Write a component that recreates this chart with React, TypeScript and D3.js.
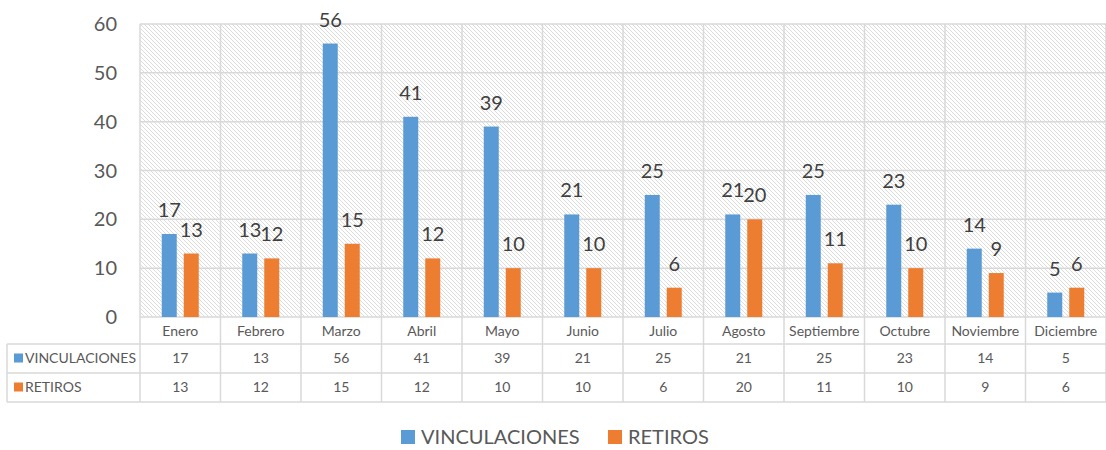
import React, { useRef, useEffect } from "react";
import * as d3 from "d3";

const months = ["Enero", "Febrero", "Marzo", "Abril", "Mayo", "Junio", "Julio", "Agosto", "Septiembre", "Octubre", "Noviembre", "Diciembre"];
const vinculaciones = [17, 13, 56, 41, 39, 21, 25, 21, 25, 23, 14, 5];
const retiros = [13, 12, 15, 12, 10, 10, 6, 20, 11, 10, 9, 6];
const yTicks = [0, 10, 20, 30, 40, 50, 60];

const seriesNames = ["VINCULACIONES", "RETIROS"];
const seriesColors = ["#5b9bd5", "#ed7d31"];

export default function App() {
    const ref = useRef<SVGSVGElement>(null);

    useEffect(() => {
        const width = 1106, height = 450;
        const plot = { left: 140, right: 1106, top: 24, bottom: 317 };
        const font = "Lato, 'Open Sans', sans-serif";
        const gridColor = "#d9d9d9";
        const textColor = "#595959";

        const svg = d3.select(ref.current);
        svg.selectAll("*").remove();
        svg.attr("width", width).attr("height", height);

        const defs = svg.append("defs");
        const pat = defs.append("pattern")
            .attr("id", "hatch")
            .attr("patternUnits", "userSpaceOnUse")
            .attr("width", 4).attr("height", 4);
        pat.append("rect").attr("width", 4).attr("height", 4).attr("fill", "#fff");
        pat.append("path")
            .attr("d", "M-1,-1 L5,5 M-1,3 L1,5 M3,-1 L5,1")
            .attr("stroke", "#dcdcdc").attr("stroke-width", 1);

        const x = d3.scaleBand().domain(months).range([plot.left, plot.right]).padding(0);
        const y = d3.scaleLinear().domain([0, 60]).range([plot.bottom, plot.top]);
        const barW = 15, gap = 7;

        svg.append("rect")
            .attr("x", plot.left).attr("y", plot.top)
            .attr("width", plot.right - plot.left).attr("height", plot.bottom - plot.top)
            .attr("fill", "url(#hatch)");

        // horizontal gridlines
        svg.append("g").selectAll("line").data(yTicks.filter(t => t > 0)).enter().append("line")
            .attr("x1", plot.left).attr("x2", plot.right)
            .attr("y1", d => y(d)).attr("y2", d => y(d))
            .attr("stroke", gridColor).attr("stroke-width", 1.5);

        // vertical gridlines through plot and table
        const tableRows = [317, 344, 373, 402];
        const bounds = months.map(m => x(m) as number).concat([plot.right]);
        svg.append("g").selectAll("line").data(bounds).enter().append("line")
            .attr("x1", d => d).attr("x2", d => d)
            .attr("y1", plot.top).attr("y2", tableRows[3])
            .attr("stroke", gridColor).attr("stroke-width", 1.5);

        // table horizontal lines
        svg.append("g").selectAll("line").data(tableRows.slice(1)).enter().append("line")
            .attr("x1", 7).attr("x2", plot.right)
            .attr("y1", d => d).attr("y2", d => d)
            .attr("stroke", gridColor).attr("stroke-width", 1.5);
        svg.append("line")
            .attr("x1", 7).attr("x2", 7).attr("y1", tableRows[1]).attr("y2", tableRows[3])
            .attr("stroke", gridColor).attr("stroke-width", 1.5);
        svg.append("line")
            .attr("x1", plot.left).attr("x2", plot.right).attr("y1", plot.bottom).attr("y2", plot.bottom)
            .attr("stroke", gridColor).attr("stroke-width", 1.5);

        // y tick labels
        svg.append("g").selectAll("text").data(yTicks).enter().append("text")
            .attr("x", 117).attr("y", d => y(d))
            .attr("dy", "0.35em")
            .attr("text-anchor", "end")
            .attr("font-family", font).attr("font-size", 20)
            .attr("fill", textColor)
            .text(d => d);

        const series = [vinculaciones, retiros];
        series.forEach((vals, si) => {
            const g = svg.append("g");
            const bx = (i: number) => (x(months[i]) as number) + x.bandwidth() / 2 - (barW * 2 + gap) / 2 + si * (barW + gap);
            g.selectAll("rect").data(vals).enter().append("rect")
                .attr("x", (d, i) => bx(i))
                .attr("y", d => y(d))
                .attr("width", barW)
                .attr("height", d => plot.bottom - y(d))
                .attr("fill", seriesColors[si]);
            g.selectAll("text").data(vals).enter().append("text")
                .attr("x", (d, i) => bx(i) + barW / 2)
                .attr("y", d => y(d) - 17)
                .attr("text-anchor", "middle")
                .attr("font-family", font).attr("font-size", 20)
                .attr("fill", "#404040")
                .text(d => d);
        });

        // category labels
        svg.append("g").selectAll("text").data(months).enter().append("text")
            .attr("x", d => (x(d) as number) + x.bandwidth() / 2)
            .attr("y", 336)
            .attr("text-anchor", "middle")
            .attr("font-family", font).attr("font-size", 14)
            .attr("fill", textColor)
            .text(d => d);

        // table rows
        series.forEach((vals, si) => {
            const rowY = (tableRows[si + 1] + tableRows[si + 2]) / 2;
            svg.append("rect").attr("x", 14).attr("y", rowY - 5).attr("width", 9).attr("height", 9)
                .attr("fill", seriesColors[si]);
            svg.append("text").attr("x", 25).attr("y", rowY).attr("dy", "0.35em")
                .attr("font-family", font).attr("font-size", 14).attr("fill", textColor)
                .text(seriesNames[si]);
            svg.append("g").selectAll("text").data(vals).enter().append("text")
                .attr("x", (d, i) => (x(months[i]) as number) + x.bandwidth() / 2)
                .attr("y", rowY).attr("dy", "0.35em")
                .attr("text-anchor", "middle")
                .attr("font-family", font).attr("font-size", 14)
                .attr("fill", textColor)
                .text(d => d);
        });

        // legend
        const legend = svg.append("g");
        const legendX = [401, 608];
        seriesNames.forEach((name, i) => {
            legend.append("rect").attr("x", legendX[i]).attr("y", 430).attr("width", 14).attr("height", 14)
                .attr("fill", seriesColors[i]);
            legend.append("text").attr("x", legendX[i] + 20).attr("y", 437).attr("dy", "0.35em")
                .attr("font-family", font).attr("font-size", 20).attr("fill", textColor)
                .text(name);
        });
    }, []);

    return (
        <div style={{ position: "absolute", left: 0, top: 0 }}>
            <svg ref={ref} style={{ display: "block" }}></svg>
        </div>
    );
}
